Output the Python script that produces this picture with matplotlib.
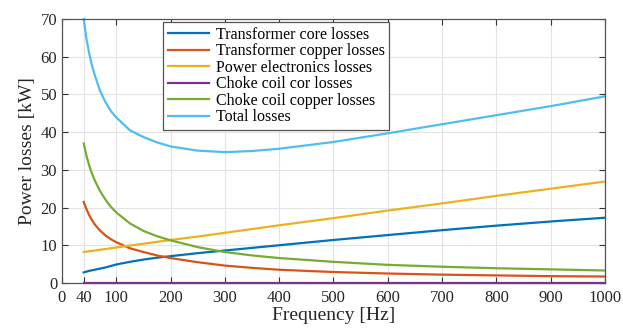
import matplotlib
matplotlib.use('Agg')
import matplotlib.pyplot as plt

plt.rcParams['font.family'] = ['Liberation Serif', 'DejaVu Serif']

## frequency [Hz] and losses [kW]
freq = [40, 45, 50, 55, 60, 70, 80, 90, 100, 125, 150, 175, 200, 250, 300, 350, 400, 500, 600, 700, 800, 900, 1000]
tr_core = [2.8, 3.0, 3.2, 3.35, 3.5, 3.8, 4.1, 4.5, 4.9, 5.6, 6.2, 6.7, 7.1, 7.9, 8.6, 9.3, 10.0, 11.4, 12.7, 14.0, 15.2, 16.3, 17.3]
tr_copper = [21.5, 19.6, 18.0, 16.7, 15.6, 13.9, 12.6, 11.6, 10.8, 9.2, 8.2, 7.3, 6.6, 5.5, 4.6, 4.0, 3.5, 2.9, 2.5, 2.2, 2.0, 1.8, 1.7]
pe_loss = [8.2, 8.3, 8.4, 8.5, 8.6, 8.8, 9.0, 9.2, 9.4, 9.9, 10.4, 10.9, 11.4, 12.3, 13.3, 14.3, 15.3, 17.2, 19.2, 21.1, 23.1, 25.0, 26.9]
choke_core = [0.05] * len(freq)
choke_copper = [37.0, 33.8, 31.2, 29.1, 27.3, 24.4, 22.1, 20.2, 18.7, 15.8, 13.8, 12.4, 11.3, 9.5, 8.2, 7.3, 6.6, 5.6, 4.8, 4.3, 3.9, 3.6, 3.3]
total = [70.0, 64.8, 61.0, 57.8, 55.3, 51.0, 48.0, 45.6, 43.9, 40.5, 38.7, 37.3, 36.2, 35.1, 34.7, 35.0, 35.6, 37.4, 39.7, 42.1, 44.5, 46.9, 49.5]

series = [
    (tr_core, '#0072BD', 'Transformer core losses'),
    (tr_copper, '#D95319', 'Transformer copper losses'),
    (pe_loss, '#EDB120', 'Power electronics losses'),
    (choke_core, '#7E2F8E', 'Choke coil cor losses'),
    (choke_copper, '#77AC30', 'Choke coil copper losses'),
    (total, '#4DBEEE', 'Total losses'),
]

xticks = [0, 40, 100, 200, 300, 400, 500, 600, 700, 800, 900, 1000]

fig = plt.figure(figsize=(6.23, 3.29), dpi=100)
ax = fig.add_axes([0.0995, 0.140, 0.8715, 0.802])

for y, c, lab in series:
    ax.plot(freq, y, color=c, lw=1.6, label=lab, clip_on=False)

ax.set_xlim(0, 1000)
ax.set_ylim(0, 70)
ax.set_xticks(xticks)
ax.set_yticks(range(0, 71, 10))
ax.grid(True, color='#e3e3e3', lw=0.8)
ax.set_axisbelow(True)
ax.tick_params(direction='in', top=True, right=True, length=4, labelsize=12,
               colors='#333333', labelcolor='#262626')
ax.tick_params(axis='x', pad=5)
for s in ax.spines.values():
    s.set_color('#555555')
    s.set_linewidth(0.9)

ax.set_xlabel('Frequency [Hz]', fontsize=14, color='#262626', labelpad=1)
ax.set_ylabel('Power losses [kW]', fontsize=14, color='#262626', labelpad=3)

leg = ax.legend(loc='upper left', bbox_to_anchor=(0.186, 0.989), borderaxespad=0,
                fontsize=11.5, fancybox=False, framealpha=1, edgecolor='#555555',
                handlelength=2.6, handletextpad=0.4, labelspacing=0.03,
                borderpad=0.3)
leg.get_frame().set_linewidth(0.9)

fig.savefig('out.png', dpi=100)
